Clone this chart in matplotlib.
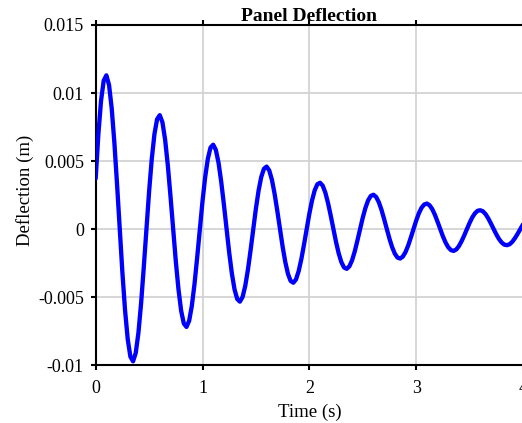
import numpy as np
import matplotlib
matplotlib.use("Agg")
import matplotlib.pyplot as plt

deflection = [
    0.00371, 0.00695, 0.00942, 0.01091, 0.01130, 0.01059, 0.00887, 0.00635, 0.00329, 0.00000,
    -0.00319, -0.00598, -0.00811, -0.00939, -0.00973, -0.00911, -0.00764, -0.00547, -0.00283, 0.00000,
    0.00275, 0.00515, 0.00698, 0.00808, 0.00837, 0.00784, 0.00657, 0.00470, 0.00244, 0.00000,
    -0.00237, -0.00443, -0.00601, -0.00695, -0.00720, -0.00675, -0.00565, -0.00405, -0.00210, 0.00000,
    0.00204, 0.00382, 0.00517, 0.00599, 0.00620, 0.00581, 0.00487, 0.00348, 0.00181, 0.00000,
    -0.00175, -0.00328, -0.00445, -0.00515, -0.00534, -0.00500, -0.00419, -0.00300, -0.00156, 0.00000,
    0.00151, 0.00283, 0.00383, 0.00443, 0.00459, 0.00430, 0.00361, 0.00258, 0.00134, 0.00000,
    -0.00130, -0.00243, -0.00330, -0.00382, -0.00395, -0.00371, -0.00310, -0.00222, -0.00115, 0.00000,
    0.00112, 0.00209, 0.00284, 0.00329, 0.00340, 0.00319, 0.00267, 0.00191, 0.00099, 0.00000,
    -0.00096, -0.00180, -0.00244, -0.00283, -0.00293, -0.00274, -0.00230, -0.00165, -0.00085, 0.00000,
    0.00083, 0.00155, 0.00210, 0.00243, 0.00252, 0.00236, 0.00198, 0.00142, 0.00073, 0.00000,
    -0.00071, -0.00133, -0.00181, -0.00210, -0.00217, -0.00203, -0.00170, -0.00122, -0.00063, 0.00000,
    0.00061, 0.00115, 0.00156, 0.00180, 0.00187, 0.00175, 0.00147, 0.00105, 0.00054, 0.00000,
    -0.00053, -0.00099, -0.00134, -0.00155, -0.00161, -0.00151, -0.00126, -0.00090, -0.00047, 0.00000,
    0.00045, 0.00085, 0.00115, 0.00134, 0.00138, 0.00130, 0.00109, 0.00078, 0.00040, 0.00000,
    -0.00039, -0.00073, -0.00099, -0.00115, -0.00119, -0.00112, -0.00094, -0.00067, -0.00035, 0.00000,
    0.00034,
]
time = np.linspace(0.0, 4.0, len(deflection))

x_ticks = [0, 1, 2, 3, 4]
x_tick_labels = ["0", "1", "2", "3", "4"]
y_ticks = [-0.01, -0.005, 0.0, 0.005, 0.01, 0.015]
y_tick_labels = ["-0.01", "-0.005", "0", "0.005", "0.01", "0.015"]

plt.rcParams["font.family"] = ["Liberation Serif", "DejaVu Serif"]

fig = plt.figure(figsize=(5.22, 4.23), dpi=100)
ax = fig.add_axes([0.1833, 0.1371, 1.0019 - 0.1833, 0.9409 - 0.1371])

ax.plot(time, deflection, color="#0000ff", linewidth=3.1, solid_capstyle="round", zorder=3)

ax.set_xlim(0, 4)
ax.set_ylim(-0.01, 0.015)
ax.set_xticks(x_ticks)
ax.set_xticklabels(x_tick_labels)
ax.set_yticks(y_ticks)
ax.set_yticklabels(y_tick_labels)

ax.grid(True, color="#d0d0d0", linewidth=1.2)
ax.set_axisbelow(True)

for side in ["left", "bottom", "top"]:
    ax.spines[side].set_linewidth(1.5)
    ax.spines[side].set_color("black")
ax.spines["right"].set_visible(False)

ax.tick_params(axis="both", direction="out", length=3.5, width=1.5, labelsize=13,
               colors="black")
ax.tick_params(axis="x", top=True, labeltop=False, pad=7)
ax.tick_params(axis="y", pad=5)

ax.set_xlabel("Time (s)", fontsize=13.5, labelpad=5)
ax.set_ylabel("Deflection (m)", fontsize=13.5)
ax.yaxis.set_label_coords(-0.145, 0.515)
ax.set_title("Panel Deflection", fontsize=14, fontweight="bold", pad=3)

fig.savefig("out.png", dpi=100)
